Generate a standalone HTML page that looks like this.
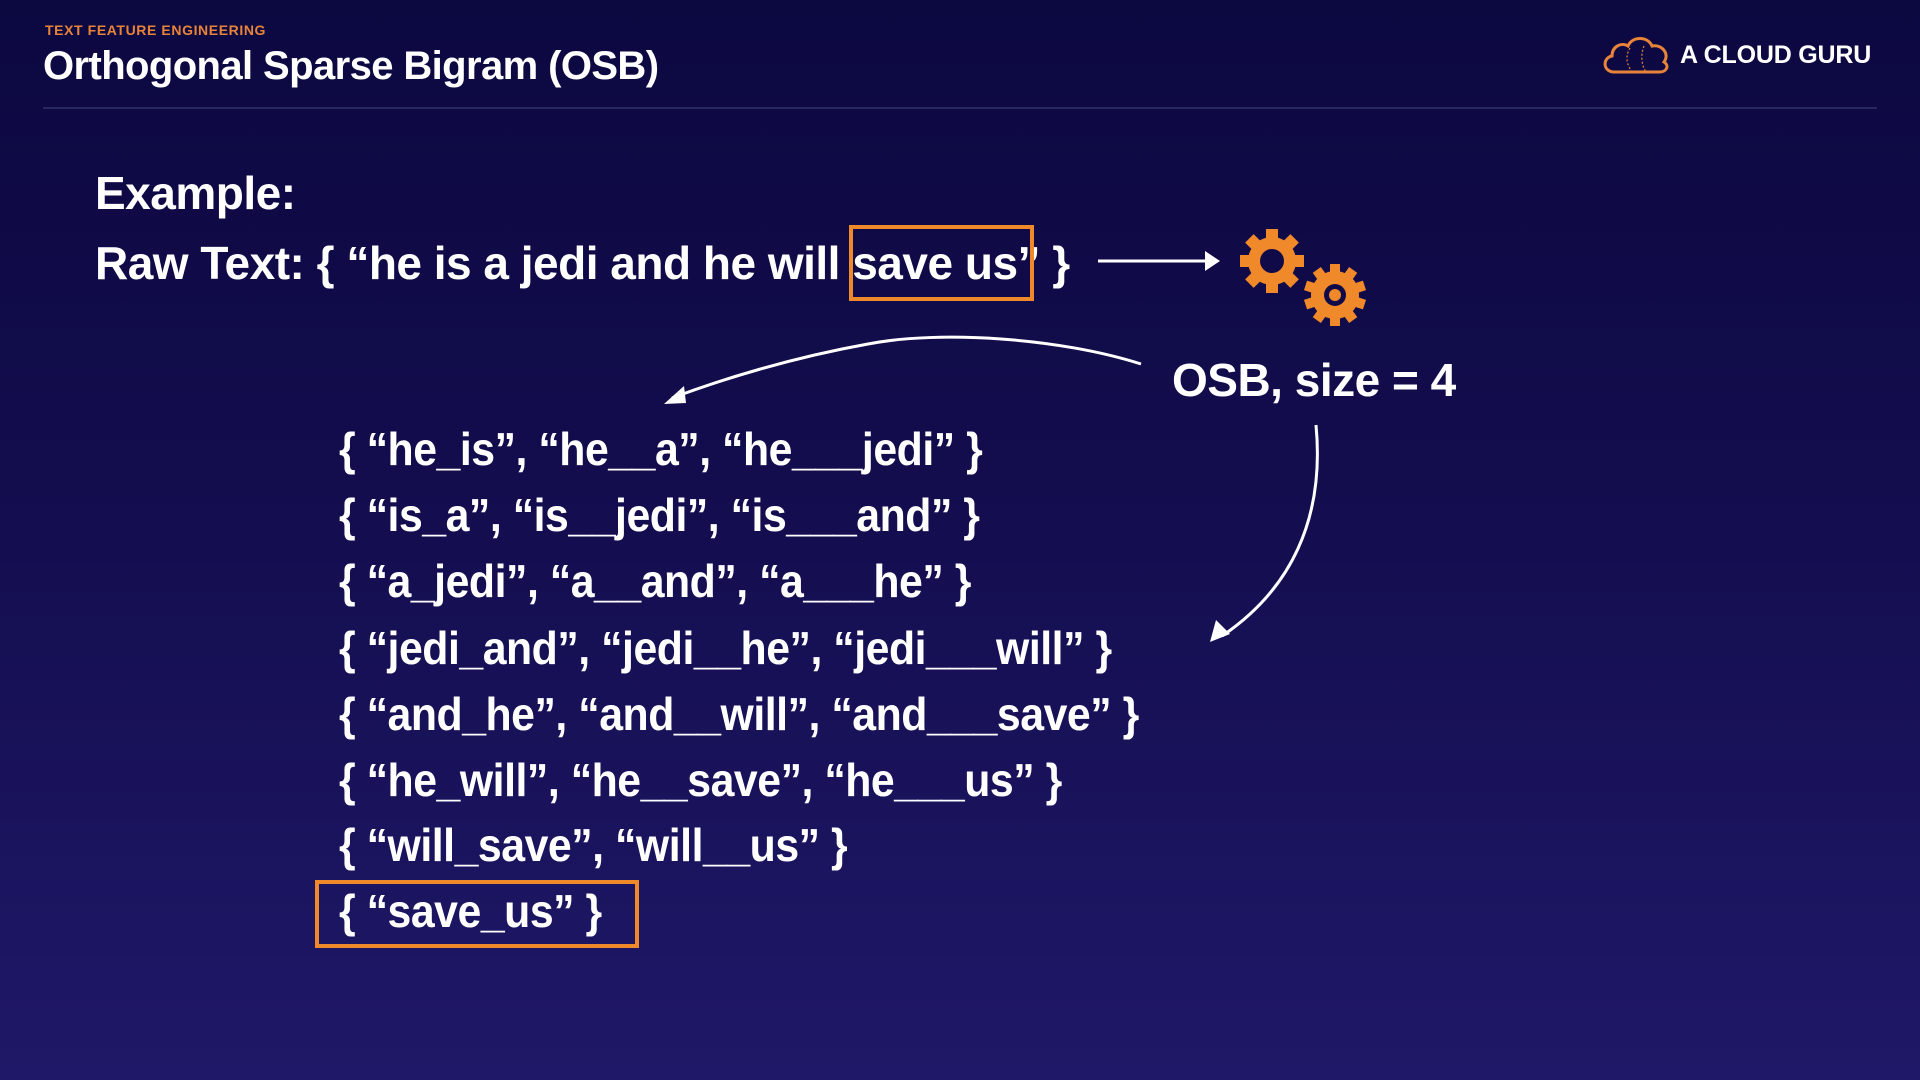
<!DOCTYPE html>
<html><head><meta charset="utf-8"><style>
html,body{margin:0;padding:0}
body{width:1920px;height:1080px;overflow:hidden;position:relative;background:linear-gradient(180deg,#0c0840 0%,#130d4e 45%,#1f1868 100%);font-family:"Liberation Sans",sans-serif;color:#fff}
.a{position:absolute;white-space:nowrap;font-weight:bold}
.t{font-size:46px;letter-spacing:-0.5px}
.l{transform:scaleX(0.93);transform-origin:0 0}
</style></head><body>
<div class="a" style="left:45px;top:22px;font-size:14px;color:#e8843a;letter-spacing:0.6px">TEXT FEATURE ENGINEERING</div>
<div class="a" style="left:43px;top:44px;font-size:40px;letter-spacing:-0.6px">Orthogonal Sparse Bigram (OSB)</div>
<div style="position:absolute;left:43px;top:107px;width:1834px;height:2px;background:#29285e"></div>
<svg style="position:absolute;left:1600px;top:32px" width="72" height="44" viewBox="0 0 72 44">
<path d="M14 40 C3 40 2 26 12 24 C12 14 22 10 28 14 C32 4 48 4 52 14 C62 12 70 22 64 30 C70 34 66 40 60 40 Z" fill="none" stroke="#e8843a" stroke-width="3"/>
<path d="M30 16 C24 26 28 34 32 40 M44 14 C40 24 42 34 46 40" fill="none" stroke="#e8843a" stroke-width="1.2" stroke-dasharray="2 2"/>
</svg>
<div class="a" style="left:1680px;top:41px;font-size:25px;letter-spacing:-0.2px">A CLOUD GURU</div>

<div class="a t" style="left:95px;top:166px">Example:</div>
<div class="a t" style="left:95px;top:236px">Raw Text: { “he is a jedi and he will save us” }</div>
<div style="position:absolute;left:849px;top:225px;width:177px;height:68px;border:4px solid #f0892a"></div>

<svg style="position:absolute;left:0;top:0" width="1920" height="1080">
<g stroke="#fff" fill="none" stroke-width="3">
<path d="M1098 261 L1205 261"/>
<path d="M1141 364 C1060 338 940 330 868 344 C790 358 720 380 672 398"/>
<path d="M1316 425 C1325 520 1290 590 1222 636"/>
</g>
<g fill="#fff">
<path d="M1205 251 L1220 261 L1205 271 Z"/>
<path d="M664 404 L684 386 L686 403 Z"/>
<path d="M1210 642 L1216 620 L1230 634 Z"/>
</g>
<g fill="#f0892a">
<g transform="translate(1272 261)">
<circle r="24"/>
<g><rect x="-6" y="-32" width="12" height="64"/><rect x="-6" y="-32" width="12" height="64" transform="rotate(45)"/><rect x="-6" y="-32" width="12" height="64" transform="rotate(90)"/><rect x="-6" y="-32" width="12" height="64" transform="rotate(135)"/></g>
<circle r="12" fill="#100b48"/>
</g>
<g transform="translate(1335 295)">
<circle r="24"/>
<g><rect x="-5" y="-31" width="10" height="62"/><rect x="-5" y="-31" width="10" height="62" transform="rotate(36)"/><rect x="-5" y="-31" width="10" height="62" transform="rotate(72)"/><rect x="-5" y="-31" width="10" height="62" transform="rotate(108)"/><rect x="-5" y="-31" width="10" height="62" transform="rotate(144)"/></g>
<circle r="11" fill="#100b48"/><circle r="6" fill="#f0892a"/>
</g>
</g>
</svg>
<div class="a t" style="left:1172px;top:353px">OSB, size = 4</div>

<div class="a t l" style="left:339px;top:422px">{ “he_is”, “he__a”, “he___jedi” }</div>
<div class="a t l" style="left:339px;top:488px">{ “is_a”, “is__jedi”, “is___and” }</div>
<div class="a t l" style="left:339px;top:554px">{ “a_jedi”, “a__and”, “a___he” }</div>
<div class="a t l" style="left:339px;top:621px">{ “jedi_and”, “jedi__he”, “jedi___will” }</div>
<div class="a t l" style="left:339px;top:687px">{ “and_he”, “and__will”, “and___save” }</div>
<div class="a t l" style="left:339px;top:753px">{ “he_will”, “he__save”, “he___us” }</div>
<div class="a t l" style="left:339px;top:818px">{ “will_save”, “will__us” }</div>
<div class="a t l" style="left:339px;top:884px">{ “save_us” }</div>
<div style="position:absolute;left:315px;top:880px;width:316px;height:60px;border:4px solid #f0892a"></div>
</body></html>
